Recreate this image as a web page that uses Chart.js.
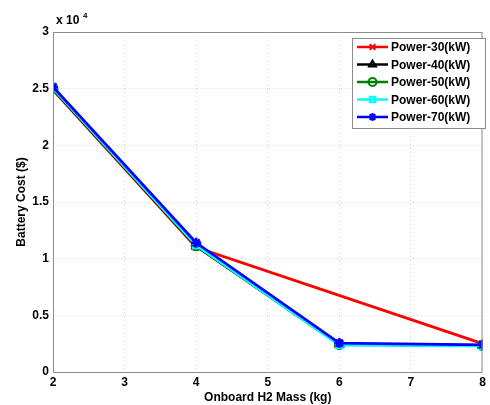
<!DOCTYPE html>
<html>
<head>
<meta charset="utf-8">
<script src="https://cdn.jsdelivr.net/npm/chart.js@4/dist/chart.umd.min.js"></script>
<style>
  body { margin: 0; background: #fff; }
  #wrap { width: 490px; height: 405px; }
</style>
</head>
<body>
<div id="wrap"><canvas id="myChart" width="490" height="405"></canvas></div>
<script>
// onboard H2 mass (kg)
const massKg = [2, 4, 6, 8];

// battery cost ($) per power level; red has no point at 6 kg
const power30 = [24900, 11000, null, 2500];
const power40 = [24950, 11100, 2450, 2350];
const power50 = [25000, 11150, 2420, 2330];
const power60 = [25050, 11200, 2380, 2300];
const power70 = [25150, 11400, 2550, 2400];

const seriesNames = ['Power-30(kW)', 'Power-40(kW)', 'Power-50(kW)', 'Power-60(kW)', 'Power-70(kW)'];
const yTicks = [0, 5000, 10000, 15000, 20000, 25000, 30000];

const FONT = 'Liberation Sans, Arial, sans-serif';

function toPoints(vals) {
  return massKg.map((m, i) => ({ x: m, y: vals[i] }));
}

function makeSet(label, vals, color, style, fill, order) {
  return {
    label: label,
    data: toPoints(vals),
    order: order,
    borderColor: color,
    backgroundColor: fill ? color : 'rgba(255,255,255,0)',
    borderWidth: 2.8,
    pointStyle: style,
    pointRadius: fill ? 5 : 4.5,
    pointBorderWidth: fill ? 2.5 : 2,
    pointBorderColor: color,
    pointBackgroundColor: fill ? color : 'rgba(255,255,255,0)',
    spanGaps: true,
    tension: 0
  };
}

// frame, exponent label and legend box
const extras = {
  id: 'extras',
  afterDatasetsDraw(chart) {
    const ctx = chart.ctx;
    const a = chart.chartArea;
    ctx.save();
    ctx.strokeStyle = '#8c8c8c';
    ctx.lineWidth = 1;
    ctx.strokeRect(a.left + 0.5, a.top + 0.5, a.right - a.left - 1, a.bottom - a.top);

    // x 10^4
    ctx.fillStyle = '#000';
    ctx.font = 'bold 12px ' + FONT;
    ctx.textBaseline = 'alphabetic';
    ctx.fillText('x 10', a.left + 3, a.top - 8);
    ctx.font = 'bold 8px ' + FONT;
    ctx.fillText('4', a.left + 30, a.top - 14);

    // legend
    const lx = 352, ly = 38, lw = 133, lh = 90;
    ctx.fillStyle = '#fff';
    ctx.fillRect(lx, ly, lw, lh);
    ctx.strokeStyle = '#8c8c8c';
    ctx.strokeRect(lx + 0.5, ly + 0.5, lw, lh);
    chart.data.datasets.forEach((ds, i) => {
      const y = ly + 9 + i * 17.5;
      ctx.strokeStyle = ds.borderColor;
      ctx.lineWidth = 2.5;
      ctx.beginPath();
      ctx.moveTo(357, y);
      ctx.lineTo(388, y);
      ctx.stroke();
      ctx.lineWidth = 2;
      ctx.fillStyle = ds.pointBackgroundColor;
      ctx.strokeStyle = ds.pointBorderColor;
      Chart.helpers.drawPoint(ctx, { pointStyle: ds.pointStyle, radius: 4, borderWidth: 2 }, 372.5, y);
      ctx.fillStyle = '#000';
      ctx.font = 'bold 12px ' + FONT;
      ctx.textBaseline = 'middle';
      ctx.fillText(ds.label, 391, y + 1);
    });
    ctx.restore();
  }
};

const ctx = document.getElementById('myChart').getContext('2d');
const myChart = new Chart(ctx, {
  type: 'line',
  data: {
    datasets: [
      makeSet(seriesNames[0], power30, '#ff0000', 'crossRot', false, 5),
      makeSet(seriesNames[1], power40, '#000000', 'triangle', false, 4),
      makeSet(seriesNames[2], power50, '#008000', 'circle', false, 3),
      makeSet(seriesNames[3], power60, '#00ffff', 'rect', false, 2),
      makeSet(seriesNames[4], power70, '#0000ff', 'star', true, 1)
    ]
  },
  options: {
    responsive: false,
    animation: false,
    layout: { padding: { top: 32, right: 2, left: 0, bottom: 0 } },
    plugins: {
      legend: { display: false },
      tooltip: { enabled: false }
    },
    scales: {
      x: {
        type: 'linear',
        min: 2,
        max: 8,
        ticks: {
          stepSize: 1,
          color: '#000',
          font: { family: FONT, size: 12, weight: 'bold' },
          padding: 3
        },
        grid: {
          color: '#d4d4d4',
          drawTicks: false
        },
        border: { display: false, dash: [1, 3] },
        title: {
          display: true,
          text: 'Onboard H2 Mass (kg)',
          color: '#000',
          font: { family: FONT, size: 12, weight: 'bold' },
          padding: { top: 0, bottom: 0 }
        },
        afterFit: s => { s.height = 33; }
      },
      y: {
        min: 0,
        max: 30000,
        afterBuildTicks: s => { s.ticks = yTicks.map(v => ({ value: v })); },
        ticks: {
          color: '#000',
          font: { family: FONT, size: 12, weight: 'bold' },
          padding: 4,
          callback: v => String(v / 10000)
        },
        grid: {
          color: '#d4d4d4',
          drawTicks: false
        },
        border: { display: false, dash: [1, 3] },
        title: {
          display: true,
          text: 'Battery Cost ($)',
          color: '#000',
          font: { family: FONT, size: 12, weight: 'bold' },
          padding: { top: 14, bottom: 0 }
        },
        afterFit: s => { s.width = 53; }
      }
    }
  },
  plugins: [extras]
});
</script>
</body>
</html>
